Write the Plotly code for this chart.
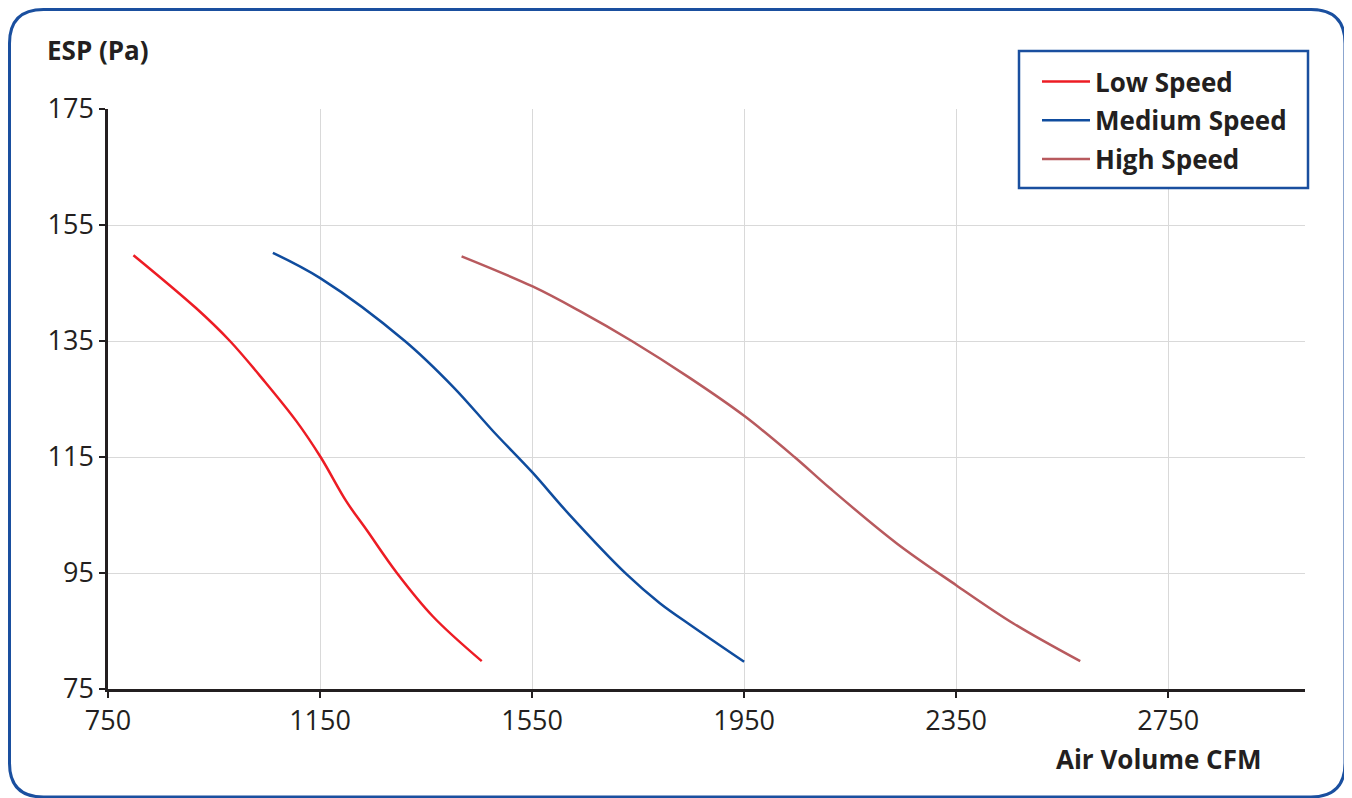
import plotly.graph_objects as go

# ---------- Data ----------
low_x = [798, 917, 980, 1043, 1106, 1151, 1200, 1238, 1295, 1363, 1455]
low_y = [149.8, 140.6, 135, 128.3, 121.1, 115, 107.3, 102.4, 95, 87.5, 79.8]

med_x = [1061, 1151, 1310, 1401, 1477, 1551, 1619, 1728, 1791, 1854, 1950]
med_y = [150.2, 145.8, 135, 127.1, 119.4, 112.3, 105.2, 94.8, 89.8, 85.7, 79.7]

high_x = [1417, 1551, 1641, 1738, 1848, 1950, 2045, 2112, 2238, 2350, 2458, 2584]
high_y = [149.6, 144.4, 140.1, 135, 128.6, 122.1, 115, 109.6, 100.1, 92.9, 86.3, 79.8]

x_ticks = [750, 1150, 1550, 1950, 2350, 2750]
y_ticks = [75, 95, 115, 135, 155, 175]

# ---------- Plot ----------
FONT = "Open Sans"
INK = "#231f20"
FRAME = "#1a4f9f"

fig = go.Figure()
for name, xs, ys, col in [
    ("Low Speed", low_x, low_y, "#ed1c24"),
    ("Medium Speed", med_x, med_y, "#0f4c9e"),
    ("High Speed", high_x, high_y, "#b85a5e"),
]:
    fig.add_trace(go.Scatter(
        x=xs, y=ys, mode="lines", name=f"<b>{name}</b>", legendgroup=name,
        line=dict(color=col, width=2.5, shape="spline", smoothing=1.0),
    ))

axis_common = dict(
    showline=True, linecolor=INK, linewidth=2.5,
    ticks="outside", ticklen=6, tickwidth=2, tickcolor=INK,
    showgrid=True, gridcolor="#d9d9d9", gridwidth=1,
    zeroline=False, tickfont=dict(family=FONT, size=27, color=INK),
)
fig.update_xaxes(range=[750, 3008], tickvals=x_ticks, **axis_common)
fig.update_yaxes(range=[75, 175], tickvals=y_ticks, **axis_common)


# reference pixel -> paper coords (plot area: x 108..1305, y 109..689)
def px(x, y):
    return (x - 108) / 1197, (689 - y) / 580


# rounded outer frame
L, T, R, B, r = 9.5, 9.5, 1345, 797, 34
pts = {
    "a": px(L + r, T), "b": px(R - r, T), "c": px(R, T), "d": px(R, T + r),
    "e": px(R, B - r), "f": px(R, B), "g": px(R - r, B), "h": px(L + r, B),
    "i": px(L, B), "j": px(L, B - r), "k": px(L, T + r), "l": px(L, T),
}
p = lambda k: f"{pts[k][0]:.5f},{pts[k][1]:.5f}"
path = (f"M{p('a')} L{p('b')} Q{p('c')} {p('d')} L{p('e')} Q{p('f')} {p('g')} "
        f"L{p('h')} Q{p('i')} {p('j')} L{p('k')} Q{p('l')} {p('a')} Z")
fig.add_shape(type="path", path=path, xref="paper", yref="paper",
              line=dict(color=FRAME, width=3), layer="below")

# legend box
x0, y0 = px(1019, 188)
x1, y1 = px(1308, 51)
fig.add_shape(type="rect", x0=x0, y0=y0, x1=x1, y1=y1, xref="paper", yref="paper",
              line=dict(color=FRAME, width=2.5), fillcolor="white", layer="above")

fig.add_annotation(text="<b>ESP (Pa)</b>", x=px(45, 0)[0], y=px(0, 50)[1],
                   xref="paper", yref="paper", xanchor="left", yanchor="middle",
                   showarrow=False, font=dict(family=FONT, size=26, color=INK))
fig.add_annotation(text="<b>Air Volume CFM</b>", x=px(1263, 0)[0], y=px(0, 759)[1],
                   xref="paper", yref="paper", xanchor="right", yanchor="middle",
                   showarrow=False, font=dict(family=FONT, size=26, color=INK))

fig.update_layout(
    width=1344, height=790,
    paper_bgcolor="white", plot_bgcolor="white",
    margin=dict(l=100, r=47, t=101, b=109),
    showlegend=True,
    legend=dict(
        x=px(1037, 0)[0], y=px(0, 58)[1], xanchor="left", yanchor="top",
        borderwidth=0, bgcolor="rgba(0,0,0,0)",
        font=dict(family=FONT, size=26, color=INK),
        traceorder="grouped", tracegroupgap=2, itemwidth=48,
    ),
)

fig.write_html("out.html")
